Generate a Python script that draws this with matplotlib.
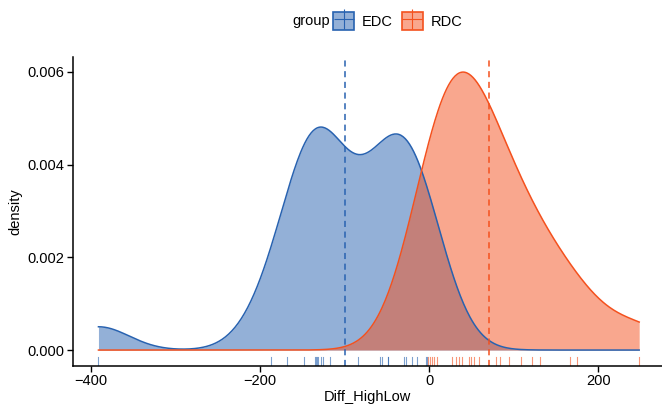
import numpy as np
import matplotlib
matplotlib.use("Agg")
import matplotlib.pyplot as plt
from matplotlib.patches import Patch
from matplotlib.lines import Line2D
from matplotlib.legend_handler import HandlerTuple

plt.rcParams['font.family'] = ['Liberation Sans', 'DejaVu Sans']

groups = ["EDC", "RDC"]
edc = [-390.9, -187.2, -168.2, -148.4, -134.5, -134.0, -132.9, -131.4, -128.2, -125.5,
       -116.7, -84.3, -58.5, -56.1, -48.3, -48.3, -29.3, -27.7, -19.8, -14.6, -3.2, -2.0]
rdc = [-0.8, 1.2, 3.2, 5.9, 9.9, 26.9, 32.4, 35.6, 39.5, 46.6, 49.5, 52.6, 58.5,
       79.0, 84.0, 94.1, 108.8, 121.4, 130.6, 167.0, 174.8, 248.4]
line_colors = ["#2862B0", "#F4511E"]
bw_adjust = [1.0, 1.4]
x_ticks = [-400, -200, 0, 200]
y_ticks = [0.000, 0.002, 0.004, 0.006]


def bw_nrd0(x):
    x = np.asarray(x)
    sd = np.std(x, ddof=1)
    q75, q25 = np.percentile(x, [75, 25])
    lo = min(sd, (q75 - q25) / 1.34)
    return 0.9 * lo * len(x) ** (-0.2)


def kde(x, grid, adjust=1.0):
    x = np.asarray(x)
    h = bw_nrd0(x) * adjust
    z = (grid[:, None] - x[None, :]) / h
    return np.exp(-0.5 * z ** 2).sum(axis=1) / (len(x) * h * np.sqrt(2 * np.pi))


allx = np.concatenate([edc, rdc])
grid = np.linspace(allx.min(), allx.max(), 512)

fig = plt.figure(figsize=(6.62, 4.04), dpi=100)
ax = fig.add_axes([73 / 662, 1 - 366 / 404, 1 - 73 / 662, (366 - 57) / 404])

handles = []
for data, col, adj in zip([edc, rdc], line_colors, bw_adjust):
    d = kde(data, grid, adj)
    ax.fill_between(grid, d, 0, color=col, alpha=0.5, linewidth=0)
    ax.plot(grid, d, color=col, linewidth=1.1)
    ax.axvline(np.mean(data), color=col, linestyle=(0, (4, 3)), linewidth=1.1)
    for v in data:
        ax.plot([v, v], [0, 0.03], transform=ax.get_xaxis_transform(),
                color=col, alpha=0.6, linewidth=0.8)
    handles.append((Patch(facecolor=col, alpha=0.5, edgecolor='none'),
                    Patch(facecolor='none', edgecolor=col, linewidth=1.2),
                    Line2D([], [], color=col, marker='|', markersize=15, linestyle='none',
                           markeredgewidth=0.8),
                    Line2D([], [], color=col, marker='_', markersize=15, linestyle='none',
                           markeredgewidth=0.8)))

ax.set_xlim(-421, (662 - 430) / 0.8425)
ax.set_ylim(-0.000344, 0.006323)
ax.set_xticks(x_ticks)
ax.set_yticks(y_ticks)
ax.set_yticklabels([f"{v:.3f}" for v in y_ticks])
for s in ['top', 'right']:
    ax.spines[s].set_visible(False)
for s in ['left', 'bottom']:
    ax.spines[s].set_linewidth(1.1)
ax.tick_params(axis='both', direction='out', length=4, width=1.0, labelsize=10.5,
               colors='black', pad=2)
ax.set_xlabel("Diff_HighLow", fontsize=10.5, labelpad=1)
ax.set_ylabel("density", fontsize=10.5, labelpad=4)

fig.text(330 / 662, 1 - 21 / 404, "group", ha='right', va='center', fontsize=10.5)
fig.legend(handles, groups, loc='center left', bbox_to_anchor=(333 / 662, 1 - 21 / 404),
           ncol=2, frameon=False, fontsize=10.5, handlelength=1.45, handleheight=1.45,
           handletextpad=0.55, columnspacing=0.6, borderpad=0.0, borderaxespad=0.0,
           handler_map={tuple: HandlerTuple(ndivide=1, pad=0)})

fig.savefig("out.png", dpi=100)
